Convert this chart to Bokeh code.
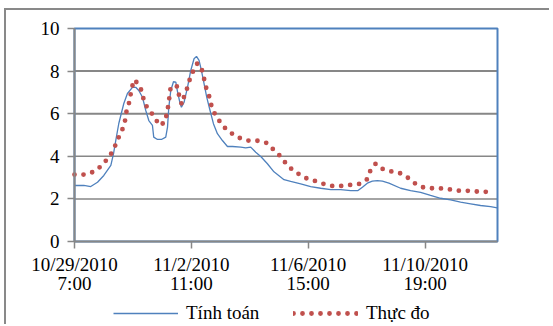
from bokeh.plotting import figure
from bokeh.models import FixedTicker, Legend, LegendItem, Range1d, BoxAnnotation
from bokeh.embed import file_html
from bokeh.resources import INLINE

# --- data (x in hours since 10/29/2010 7:00) ---
calc_hours = [0, 8.0, 13.9, 19.7, 25.1, 31.1, 33.4, 35.3, 37.9, 42.2, 45.3, 49.6, 52.4, 55.0,
              58.2, 61.0, 63.6, 66.7, 67.8, 71.0, 74.4, 78.1, 79.6, 80.7, 82.4, 84.7, 86.7,
              88.1, 90.1, 91.5, 93.8, 96.7, 99.5, 102.3, 104.4, 106.6, 108.6, 110.9, 113.2,
              116.0, 118.9, 122.3, 126.6, 130.9, 135.2, 142.3, 146.5, 150.8, 155.1, 159.4,
              165.1, 170.7, 179.3, 185.0, 193.6, 202.1, 210.7, 219.3, 227.8, 236.4, 242.6,
              246.4, 250.6, 254.9, 259.2, 263.5, 269.1, 279.1, 287.6, 296.2, 304.7, 313.3,
              321.9, 330.4, 339.0, 347.5, 356.1, 361.8]
calc_level = [2.63, 2.63, 2.58, 2.78, 3.10, 3.57, 4.13, 4.74, 5.54, 6.48, 6.95, 7.24, 7.24, 7.09,
              6.77, 6.15, 5.68, 5.45, 4.90, 4.79, 4.79, 4.90, 5.37, 6.30, 7.09, 7.50, 7.48,
              7.05, 6.54, 6.30, 6.54, 7.24, 8.03, 8.58, 8.69, 8.50, 8.03, 7.40, 6.77,
              6.15, 5.53, 5.06, 4.74, 4.46, 4.46, 4.43, 4.40, 4.43, 4.19, 3.99,
              3.65, 3.27, 2.90, 2.82, 2.71, 2.58, 2.50, 2.44, 2.44, 2.39, 2.39,
              2.55, 2.74, 2.83, 2.86, 2.83, 2.74, 2.50, 2.39, 2.31, 2.16, 2.03,
              1.95, 1.85, 1.77, 1.69, 1.64, 1.58]

obs_hours = [0, 8.2, 16.3, 23.1, 28.2, 32.2, 35.6, 38.5, 41.6, 43.0, 43.9, 46.2, 47.6, 49.0,
             51.0, 55.3, 58.2, 59.5, 63.3, 68.7, 72.4, 77.5, 79.0, 80.4, 81.3, 82.4, 88.1,
             89.5, 91.8, 93.8, 96.7, 98.6, 101.5, 105.2, 108.9, 110.9, 112.3, 115.1, 116.9,
             119.4, 123.7, 128.6, 134.3, 140.8, 148.5, 156.5, 164.2, 170.2, 175.9, 180.2,
             185.6, 192.1, 198.7, 205.0, 212.7, 220.4, 228.1, 236.4, 244.3, 250.6, 252.9,
             257.7, 263.5, 271.2, 278.5, 285.4, 291.1, 297.9, 305.6, 314.2, 321.9, 329.9,
             339.0, 347.0, 355.6]
obs_level = [3.14, 3.14, 3.27, 3.55, 3.88, 4.19, 4.59, 4.98, 5.34, 5.55, 6.00, 6.38, 6.77, 7.20,
             7.59, 7.36, 6.96, 6.54, 6.20, 5.84, 5.45, 5.60, 6.02, 6.42, 6.82, 7.28, 7.28,
             6.85, 6.43, 6.81, 7.24, 7.60, 8.00, 8.37, 8.08, 7.64, 7.28, 6.85, 6.43,
             6.06, 5.68, 5.34, 5.08, 4.87, 4.74, 4.73, 4.63, 4.32, 4.02, 3.72,
             3.41, 3.16, 2.96, 2.86, 2.71, 2.61, 2.61, 2.66, 2.71, 2.93, 3.29,
             3.65, 3.41, 3.29, 3.21, 2.99, 2.74, 2.55, 2.50, 2.49, 2.44, 2.38,
             2.38, 2.33, 2.33]

x_tick_pos = [0, 100, 200, 300]
x_tick_labels = ["10/29/2010\n7:00", "11/2/2010\n11:00", "11/6/2010\n15:00", "11/10/2010\n19:00"]
y_ticks = [0, 2, 4, 6, 8, 10]
series_names = ["Tính toán", "Thực đo"]

FONT = "Liberation Serif"
FS = "19px"
BLUE = "#4F81BD"
RED = "#C0504D"
GRAY = "#878787"

X_END = 362
Y_TOP = 10

# --- layout (pixels): canvas spans the whole chart; plot area placed inside it ---
W, H = 545, 316
PA_L, PA_R, PA_T, PA_B = 68, 491, 18, 231      # plot-area edges within the canvas
kx = (PA_R - PA_L) / X_END
ky = (PA_B - PA_T) / Y_TOP
x_range = Range1d(-PA_L / kx, X_END + (W - PA_R) / kx)
y_range = Range1d(-(H - PA_B) / ky, Y_TOP + PA_T / ky)

p = figure(width=W, height=H, output_backend="svg", toolbar_location=None,
           x_range=x_range, y_range=y_range,
           min_border_left=0, min_border_right=0, min_border_top=0, min_border_bottom=0)
p.styles = {"margin-left": "4px", "margin-top": "8px",
            "border-top": "2px solid #898989", "border-left": "2px solid #898989"}
p.outline_line_color = None
p.xgrid.visible = False
p.ygrid.visible = False

# horizontal gridlines limited to the plot area
for t in y_ticks[1:-1]:
    p.add_layout(BoxAnnotation(left=0, right=X_END, bottom=t, top=t, fill_alpha=0,
                               line_color=GRAY, line_alpha=1,
                               line_width=1.5 if t in (2, 4) else 2.0, level="underlay"))
# plot-area border (blue top and right edges)
p.add_layout(BoxAnnotation(left=0, right=X_END, bottom=0, top=Y_TOP, fill_alpha=0,
                           line_color=BLUE, line_alpha=1, line_width=2, level="underlay"))

for ax in (p.xaxis[0], p.yaxis[0]):
    ax.axis_line_color = GRAY
    ax.axis_line_width = 2
    ax.major_tick_line_color = GRAY
    ax.major_tick_line_width = 1.5
    ax.major_tick_in = 0
    ax.major_tick_out = 7
    ax.minor_tick_line_color = None
    ax.major_label_text_font = FONT
    ax.major_label_text_font_size = FS
    ax.major_label_text_color = "black"
    ax.fixed_location = 0

p.xaxis.ticker = FixedTicker(ticks=x_tick_pos)
p.xaxis.major_label_overrides = {t: l for t, l in zip(x_tick_pos, x_tick_labels)}
p.xaxis.major_label_standoff = 5
p.xaxis.major_label_text_line_height = 0.92
p.xaxis.bounds = (0, X_END)
p.yaxis.ticker = FixedTicker(ticks=y_ticks)
p.yaxis.major_label_standoff = 8
p.yaxis.bounds = (0, Y_TOP)

r_calc = p.line(calc_hours, calc_level, line_color=BLUE, line_width=1.3)
r_obs = p.line(obs_hours, obs_level, line_color=RED, line_width=4.8,
               line_dash="0 9", line_cap="round")

for name, r, x0 in [(series_names[0], r_calc, 107), (series_names[1], r_obs, 287)]:
    lg = Legend(items=[LegendItem(label=name, renderers=[r])],
                location=(x0, 2), orientation="horizontal",
                glyph_width=65, glyph_height=20, label_height=20, label_standoff=8,
                padding=0, margin=0, spacing=0,
                border_line_color=None, background_fill_alpha=0,
                label_text_font=FONT, label_text_font_size=FS, label_text_color="black")
    p.add_layout(lg, "center")

open("out.html", "w").write(file_html(p, INLINE))
